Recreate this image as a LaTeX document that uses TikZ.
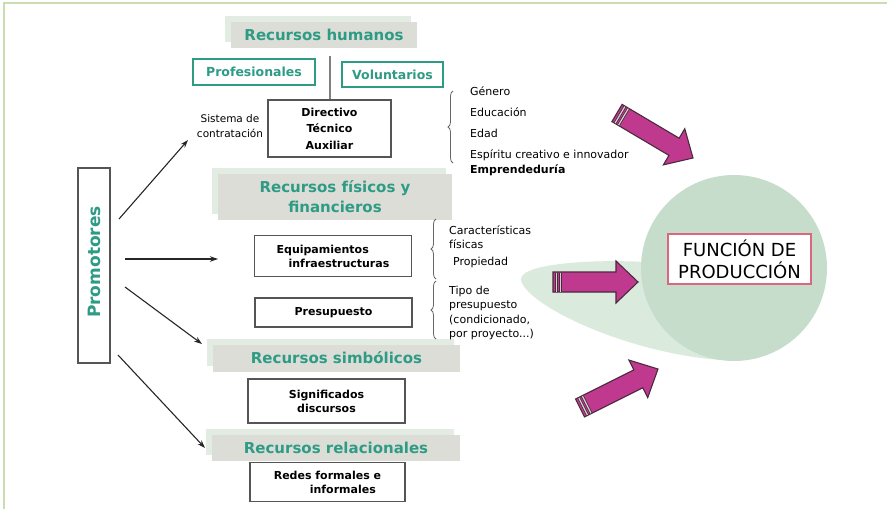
\documentclass[tikz,border=0pt]{standalone}
\usepackage{fontspec}
\setmainfont{DejaVu Sans}
\usetikzlibrary{arrows.meta,calc,shadows,decorations.pathreplacing}
\definecolor{resteal}{HTML}{2E9B85}
\definecolor{resgray}{HTML}{DCDDD7}
\definecolor{resback}{HTML}{E3ECE3}
\definecolor{boxline}{HTML}{555555}
\definecolor{circgreen}{HTML}{C5DDCA}
\definecolor{tailgreen}{HTML}{DAEADD}
\definecolor{arrowmag}{HTML}{BF3A8E}
\definecolor{arrowedge}{HTML}{4A2A3C}
\definecolor{prodred}{HTML}{D9687F}
\definecolor{framegreen}{HTML}{C9DDB0}

% fat magenta arrow from tail #1 to tip #2
\newcommand{\fatarrow}[2]{%
  \coordinate (fa-n) at ($(#2)!22pt!(#1)$);
  \filldraw[bigarrow] ($(#1)!10pt!90:(#2)$) -- ($(fa-n)!10pt!-90:(#1)$) -- ($(fa-n)!21pt!-90:(#1)$) -- (#2)
    -- ($(fa-n)!21pt!90:(#1)$) -- ($(fa-n)!10pt!90:(#1)$) -- ($(#1)!10pt!-90:(#2)$) -- cycle;
  \coordinate (fa-s1) at ($(#1)!3.5pt!(#2)$);
  \coordinate (fa-s2) at ($(#1)!7.5pt!(#2)$);
  \draw[stripe] ($(fa-s1)!9.5pt!90:(#2)$) -- ($(fa-s1)!9.5pt!-90:(#2)$);
  \draw[stripe] ($(fa-s2)!9.5pt!90:(#2)$) -- ($(fa-s2)!9.5pt!-90:(#2)$);
}

\begin{document}
\begin{tikzpicture}[x=1pt,y=-1pt,
  titlebox/.style={fill=resgray, text=resteal, font=\bfseries\fontsize{15}{20}\selectfont, align=center, inner sep=0pt,
    general shadow={fill=resback, shadow xshift=-6pt, shadow yshift=6pt}},
  tealbox/.style={draw=resteal, line width=1.8pt, fill=white, text=resteal, font=\bfseries\fontsize{12.5}{15}\selectfont, inner sep=0pt},
  itembox/.style={draw=boxline, line width=1.2pt, fill=white, font=\bfseries\fontsize{11}{14}\selectfont, align=center, inner sep=0pt},
  note/.style={font=\fontsize{11}{14.5}\selectfont, inner sep=0pt, anchor=west, align=left},
  promarrow/.style={-{Stealth[length=8pt,width=5.5pt]}, line width=1.1pt, draw=black!85},
  sidebrace/.style={decorate, decoration={brace, amplitude=5pt}, draw=black!60, line width=.8pt},
  bigarrow/.style={fill=arrowmag, draw=arrowedge, line width=1.1pt, line join=miter},
  stripe/.style={draw=gray!35, line width=1.2pt, preaction={draw=arrowedge, line width=2.8pt}},
]
\useasboundingbox (0,0) rectangle (887,509);
\draw[framegreen, line width=1.5pt] (4,509) -- (4,3) -- (887,3);

% production
\fill[tailgreen] (660,263) .. controls (600,258) and (521,263) .. (521,279) .. controls (522,302) and (620,352) .. (720,360) -- cycle;
\node[circle, fill=circgreen, minimum size=186pt, inner sep=0pt] (prod) at (734,268) {};
\node[draw=prodred, line width=1.4pt, fill=white, minimum width=143pt, minimum height=50pt, inner sep=0pt,
  align=center, font=\fontsize{18}{22}\selectfont] (func) at (739.5,259) {FUNCIÓN DE\\PRODUCCIÓN};

% resources
\node[titlebox, minimum width=186pt, minimum height=26pt] (rh) at (324,35) {Recursos humanos};
\node[titlebox, minimum width=234pt, minimum height=46pt] (rff) at (335,197) {Recursos físicos y\\financieros};
\node[titlebox, minimum width=247pt, minimum height=27pt] (rs) at (336.5,358) {Recursos simbólicos};
\node[titlebox, minimum width=248pt, minimum height=26pt] (rr) at (336,447.5) {Recursos relacionales};

\node[tealbox, minimum width=122pt, minimum height=26pt] (prof) at (254,72) {Profesionales};
\node[tealbox, minimum width=101pt, minimum height=25pt] (vol) at (392.5,74.5) {Voluntarios};

\node[itembox, minimum width=123pt, minimum height=57pt] (dta) at (329.5,128.5) {Directivo\\[2.5pt]Técnico\\[2.5pt]Auxiliar};
\node[itembox, minimum width=157pt, minimum height=41pt, align=left] (equip) at (333,256) {Equipamientos\\\hspace*{12pt}infraestructuras};
\node[itembox, minimum width=157pt, minimum height=29pt] (presu) at (333.5,312.5) {Presupuesto};
\node[itembox, minimum width=157pt, minimum height=44pt] (signif) at (326.5,401) {Significados\\discursos};
\node[itembox, minimum width=155pt, minimum height=39pt, align=left] (redes) at (327.5,482) {Redes formales e\\\hspace*{36pt}informales};

\draw[draw=black!50, line width=2pt, shorten <=8pt] (dta.north |- rh.south) -- (dta.north);

% promotores
\node[draw=boxline, line width=1.2pt, fill=white, minimum width=32pt, minimum height=195pt, inner sep=0pt] (prom) at (94,265.5) {};
\node[rotate=90, text=resteal, font=\bfseries\fontsize{17}{18}\selectfont, inner sep=0pt] (promtext) at (94,262) {Promotores};

\node[font=\fontsize{10.5}{15}\selectfont, align=center, inner sep=0pt] (sist) at (230,126) {Sistema de\\contratación};

% features
\node[note] (gen) at (470,91) {Género};
\node[note] (edu) at (470,112) {Educación};
\node[note] (edad) at (470,133) {Edad};
\node[note] (esp) at (470,155) {Espíritu creativo e innovador};
\node[note, font=\bfseries\fontsize{11}{14}\selectfont] (emp) at (470,170) {Emprendeduría};
\draw[sidebrace] (453,163) -- (453,91);

\node[note] (carac) at (449,237) {Características\\físicas};
\node[note] (prop) at (453,262) {Propiedad};
\node[note] (tipo) at (449,313) {Tipo de\\presupuesto\\(condicionado,\\por proyecto...)};
\draw[sidebrace] (436,279) -- (436,219);
\draw[sidebrace] (436,339) -- (436,281);

% arrows from promotores
\coordinate (p1) at (119,219); \coordinate (q1) at (188,140);
\coordinate (p2) at (125,259); \coordinate (q2) at (218,259);
\coordinate (p3) at (125,287); \coordinate (q3) at (202,344);
\coordinate (p4) at (118,355); \coordinate (q4) at (205,448);
\foreach \i in {1,...,4}
  \draw[promarrow] (p\i) -- (q\i);

% arrows into production
\coordinate (t1) at (617,113); \coordinate (h1) at (693,158);
\coordinate (t2) at (553,282); \coordinate (h2) at (638,282);
\coordinate (t3) at (580,408); \coordinate (h3) at (658,369);
\foreach \i in {1,2,3}
  \fatarrow{t\i}{h\i};
\end{tikzpicture}
\end{document}
